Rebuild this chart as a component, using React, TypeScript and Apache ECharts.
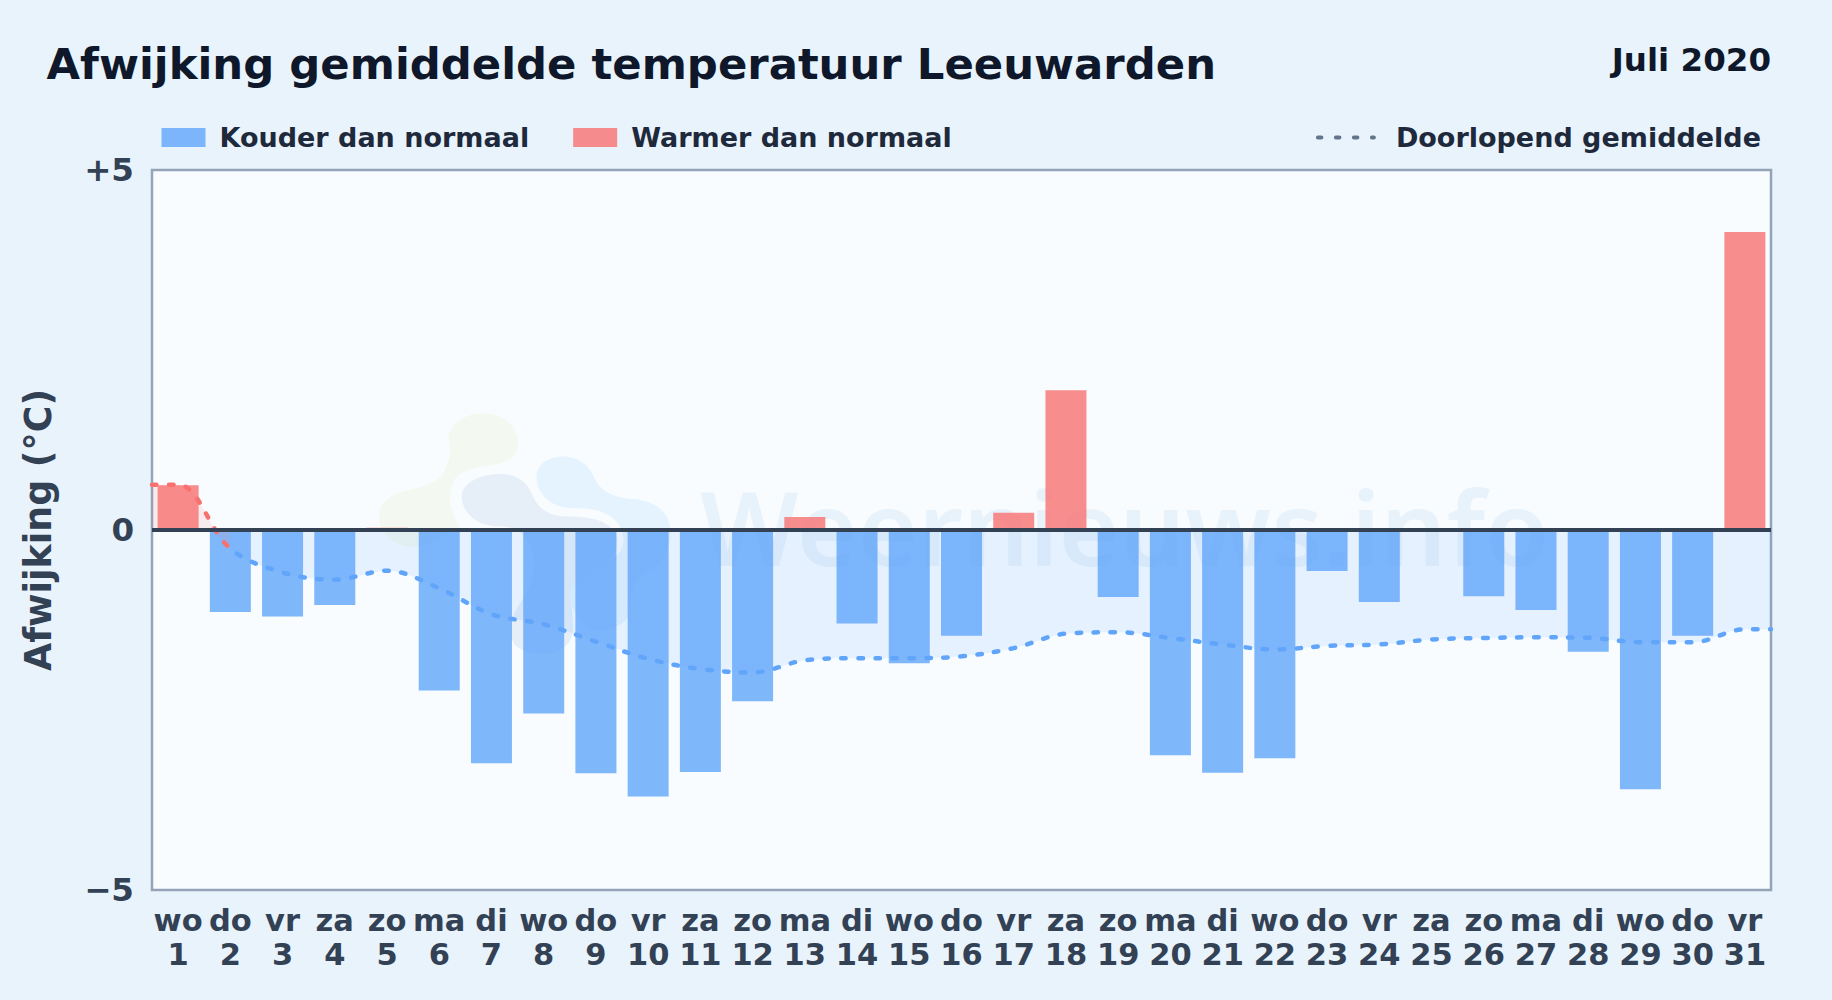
import React, { useEffect, useRef } from "react";
import * as echarts from "echarts";

const weekdays = ["wo","do","vr","za","zo","ma","di","wo","do","vr","za","zo","ma","di","wo","do","vr","za","zo","ma","di","wo","do","vr","za","zo","ma","di","wo","do","vr"];
const dayNumbers = weekdays.map((_, i) => i + 1);
const deviations = [0.62,-1.14,-1.2,-1.04,0.03,-2.23,-3.24,-2.55,-3.38,-3.7,-3.36,-2.38,0.18,-1.3,-1.85,-1.47,0.24,1.94,-0.93,-3.13,-3.37,-3.17,-0.57,-1.0,0,-0.92,-1.11,-1.69,-3.6,-1.47,4.14];
const runningMean = [0.63,-0.26,-0.59,-0.69,-0.565,-0.81,-1.17,-1.31,-1.55,-1.79,-1.93,-1.98,-1.81,-1.78,-1.78,-1.755,-1.64,-1.44,-1.42,-1.5,-1.59,-1.66,-1.61,-1.59,-1.52,-1.5,-1.49,-1.497,-1.56,-1.56,-1.38];
const yTicks: Record<string, string> = { "5": "+5", "0": "0", "-5": "\u22125" };

const COLD = "Kouder dan normaal";
const WARM = "Warmer dan normaal";
const MEAN = "Doorlopend gemiddelde";
const FONT = "DejaVu Sans";

const GREEN_BLOB = "M370 70C430 70 475 110 475 160C475 200 450 215 400 225C350 232 300 240 280 275C262 320 270 370 300 410C260 440 210 470 160 470C100 470 60 430 58 385C55 345 80 320 130 305C180 290 230 285 250 250C268 215 275 190 268 160C255 110 310 70 370 70Z";
const GRAY_BLOB = "M420 252C470 252 500 275 515 310C530 350 560 375 610 380C680 380 750 385 770 440C780 480 750 520 700 540C660 555 630 580 635 640C640 700 650 750 610 775C570 800 500 795 470 770C440 740 450 690 480 640C510 600 530 560 520 500C510 440 480 410 420 410C360 410 310 380 305 320C305 280 360 252 420 252Z";
const BLUE_BLOB = "M610 200C660 200 690 230 705 265C725 310 770 325 830 328C890 335 930 370 932 420C935 490 900 530 850 550C820 570 810 620 810 660C810 700 760 720 720 720C680 720 640 680 630 620C625 570 690 540 770 500C800 470 800 420 760 385C720 355 680 355 630 355C570 350 530 310 530 260C530 225 565 200 610 200Z";
echarts.graphic.registerShape("wmGreen", echarts.graphic.extendPath(GREEN_BLOB, {}));
echarts.graphic.registerShape("wmGray", echarts.graphic.extendPath(GRAY_BLOB, {}));
echarts.graphic.registerShape("wmBlue", echarts.graphic.extendPath(BLUE_BLOB, {}));

export default function App() {
  const ref = useRef<HTMLDivElement>(null);
  useEffect(() => {
    document.body.style.margin = "0";
    const chart = echarts.init(ref.current!, undefined, { renderer: "svg" });
    const blob = (type: string, fill: string) => ({ type, x: 360, y: 390, scaleX: 1 / 3, scaleY: 1 / 3, z: 1, silent: true, style: { fill } });
    const meanPoints = [
      [0.5, runningMean[0]],
      ...runningMean.map((v, i) => [i + 1, v]),
      [31.5, runningMean[30]],
    ];
    const split = 1.5 / 31; // the mean turns blue from day 2 on
    const meanGradient = (red: string, blue: string) => new echarts.graphic.LinearGradient(0, 0, 1, 0, [
      { offset: 0, color: red },
      { offset: split, color: red },
      { offset: split, color: blue },
      { offset: 1, color: blue },
    ]);
    chart.setOption({
      animation: false,
      backgroundColor: "#e8f3fc",
      textStyle: { fontFamily: FONT },
      title: [
        { text: "Afwijking gemiddelde temperatuur Leeuwarden", left: 41.5, top: 37, textStyle: { fontFamily: FONT, fontWeight: "bold", fontSize: 43.35, color: "#0f172a" } },
        { text: "Juli 2020", right: 56, top: 38, textStyle: { fontFamily: FONT, fontWeight: "bold", fontSize: 32.5, color: "#0f172a" } },
      ],
      legend: [
        { data: [COLD, WARM], left: 156.5, top: 119, itemWidth: 44, itemHeight: 19, itemGap: 44, icon: "rect", textStyle: { fontFamily: FONT, fontWeight: "bold", fontSize: 27, color: "#1e293b", padding: [0, 0, 0, 9] }, selectedMode: false },
        { data: [MEAN], right: 66, top: 119, itemWidth: 56, itemHeight: 19, itemGap: 10, textStyle: { fontFamily: FONT, fontWeight: "bold", fontSize: 27, color: "#1e293b", padding: [0, 0, 0, 17] }, selectedMode: false, lineStyle: { color: "#64748b", width: 4, type: [3.5, 14.5] }, itemStyle: { opacity: 0 } },
      ],
      grid: { left: 152, top: 170, right: 61, bottom: 110, show: true, backgroundColor: "#f8fcff", borderColor: "#94a3b8", borderWidth: 2.5, containLabel: false },
      xAxis: [
        {
          type: "category", data: weekdays.map((d, i) => `${d}\n${dayNumbers[i]}`),
          axisLine: { show: false }, axisTick: { show: false }, splitLine: { show: false },
          axisLabel: { interval: 0, margin: 13.5, fontFamily: FONT, fontWeight: "bold", fontSize: 30.5, lineHeight: 34, color: "#334155" },
        },
        { type: "value", min: 0.5, max: 31.5, show: false },
      ],
      yAxis: {
        type: "value", min: -5, max: 5, interval: 5,
        name: "Afwijking (\u00b0C)", nameLocation: "middle", nameGap: 96,
        nameTextStyle: { fontFamily: FONT, fontWeight: "bold", fontSize: 36.4, color: "#334155" },
        axisLine: { show: false }, axisTick: { show: false }, splitLine: { show: false },
        axisLabel: { margin: 18, fontFamily: FONT, fontWeight: "bold", fontSize: 32.5, color: "#334155", formatter: (v: number) => yTicks[String(v)] ?? "" },
      },
      graphic: [
        blob("wmGreen", "#f3f9f0"),
        blob("wmGray", "#e6eff8"),
        blob("wmBlue", "#e5f3fe"),
        { type: "text", x: 700, y: 577, z: 1, silent: true, style: { text: "Weernieuws.info", fontFamily: "Noto Sans", fontWeight: 600, fontSize: 103.7, textVerticalAlign: "bottom", fill: "#2f7fd0", opacity: 0.08 } },
      ],
      series: [
        { name: COLD, type: "bar", z: 3, barWidth: 41, barGap: "-100%", itemStyle: { color: "#60a5fa", opacity: 0.8 }, data: deviations.map((v) => (v < 0 ? v : null)) },
        { name: WARM, type: "bar", z: 3, barWidth: 41, barGap: "-100%", itemStyle: { color: "#f87171", opacity: 0.8 }, data: deviations.map((v) => (v > 0 ? v : null)) },
        { name: MEAN, type: "line", xAxisIndex: 1, z: 4, smooth: 0.35, showSymbol: false, lineStyle: { color: meanGradient("#f87171", "#60a5fa"), width: 4.5, type: [4.5, 12.5], cap: "round" }, areaStyle: { color: meanGradient("rgba(248,113,113,0.18)", "rgba(96,165,250,0.18)") }, data: meanPoints },
        { name: "nullijn", type: "line", xAxisIndex: 1, z: 6, showSymbol: false, lineStyle: { color: "#334155", width: 4 }, data: [[0.5, 0], [31.5, 0]] },
      ],
    });
    return () => chart.dispose();
  }, []);
  return <div ref={ref} style={{ width: 1832, height: 1000 }} />;
}
